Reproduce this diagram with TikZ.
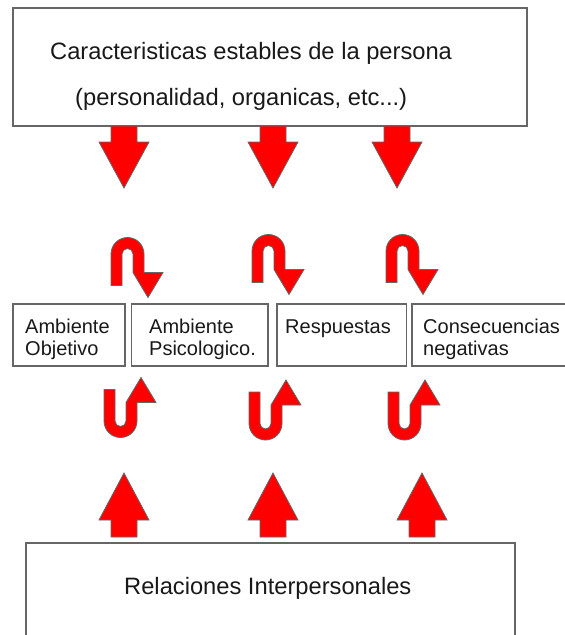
\documentclass[tikz,border=0pt]{standalone}
\usepackage{fontspec}
\setmainfont{Liberation Sans}
\begin{document}
\begin{tikzpicture}[x=1pt,y=1pt,yscale=-1,
  frame/.style={draw=black!60, line width=1.2pt, fill=white, inner sep=0pt},
  big/.style={font=\fontsize{23.7}{28}\selectfont, text=black!90, inner sep=0pt, anchor=base west},
  small/.style={font=\fontsize{20}{22}\selectfont, text=black!90, inner sep=0pt, anchor=base west},
  blk/.style={draw=black!60, line width=0.8pt, fill=red, line join=miter},
  % pic contents are drawn with y pointing up
  pics/bigdown/.style={code={\path[blk] (-13,0) -- (-13,-16) -- (-25,-16) -- (0,-62) -- (25,-16) -- (13,-16) -- (13,0) -- cycle;}},
  pics/bigup/.style={code={\path[blk] (-13,0) -- (-13,17) -- (-25,17) -- (0,64) -- (25,17) -- (13,17) -- (13,0) -- cycle;}},
  pics/turndown/.style={code={\path[blk] (-16.5,-31.5) -- (-16.5,0) arc[start angle=180, end angle=0, radius=16.5] -- (16.5,-18.5) -- (35.5,-18.5) -- (20.5,-43.5) -- (5.5,-18.5) -- (5.5,0) arc[start angle=0, end angle=180, radius=5.5] -- (-5.5,-31.5) -- cycle;}},
  pics/turnup/.style={code={\path[blk] (-16.5,31.5) -- (-16.5,0) arc[start angle=180, end angle=360, radius=16.5] -- (16.5,18.5) -- (35.5,18.5) -- (20.5,43.5) -- (5.5,18.5) -- (5.5,0) arc[start angle=360, end angle=180, radius=5.5] -- (-5.5,31.5) -- cycle;}}
]
\useasboundingbox (0,0) rectangle (565,635);
% boxes
\node[frame, minimum width=514pt, minimum height=118pt] (top) at (270,67) {};
\node[frame, minimum width=112pt, minimum height=62pt] (boxA) at (69,335) {};
\node[frame, minimum width=136.5pt, minimum height=62pt] (boxB) at (199.75,335) {};
\node[frame, minimum width=129.5pt, minimum height=62pt] (boxC) at (341.75,335) {};
\node[frame, minimum width=163pt, minimum height=62pt] (boxD) at (493.5,335) {};
\node[frame, minimum width=489pt, minimum height=102pt] (bottom) at (270.5,594) {};
% texts
\node[big] (toptextA) at (50,59) {Caracteristicas estables de la persona};
\node[big] (toptextB) at (75,105) {(personalidad, organicas, etc...)};
\node[big] (bottomtext) at (124,594) {Relaciones Interpersonales};
\node[small] (textAa) at (25,333) {Ambiente};
\node[small] (textAb) at (25,355) {Objetivo};
\node[small] (textBa) at (149,333) {Ambiente};
\node[small] (textBb) at (149,355) {Psicologico.};
\node[small] (textC) at (285,333) {Respuestas};
\node[small] (textDa) at (423,333) {Consecuencias};
\node[small] (textDb) at (423,355) {negativas};
% big arrows
\pic (downA) at (124,126) {bigdown};
\pic (downB) at (273,126) {bigdown};
\pic (downC) at (397,126) {bigdown};
\pic (upA) at (124,537) {bigup};
\pic (upB) at (273,537) {bigup};
\pic (upC) at (422,537) {bigup};
% u-turn arrows
\pic (turnA) at (127.5,254) {turndown};
\pic (turnB) at (268.5,251) {turndown};
\pic (turnC) at (402.5,251) {turndown};
\pic (backA) at (120.5,421) {turnup};
\pic (backB) at (265.5,423.5) {turnup};
\pic (backC) at (404.5,423.5) {turnup};
\end{tikzpicture}
\end{document}
